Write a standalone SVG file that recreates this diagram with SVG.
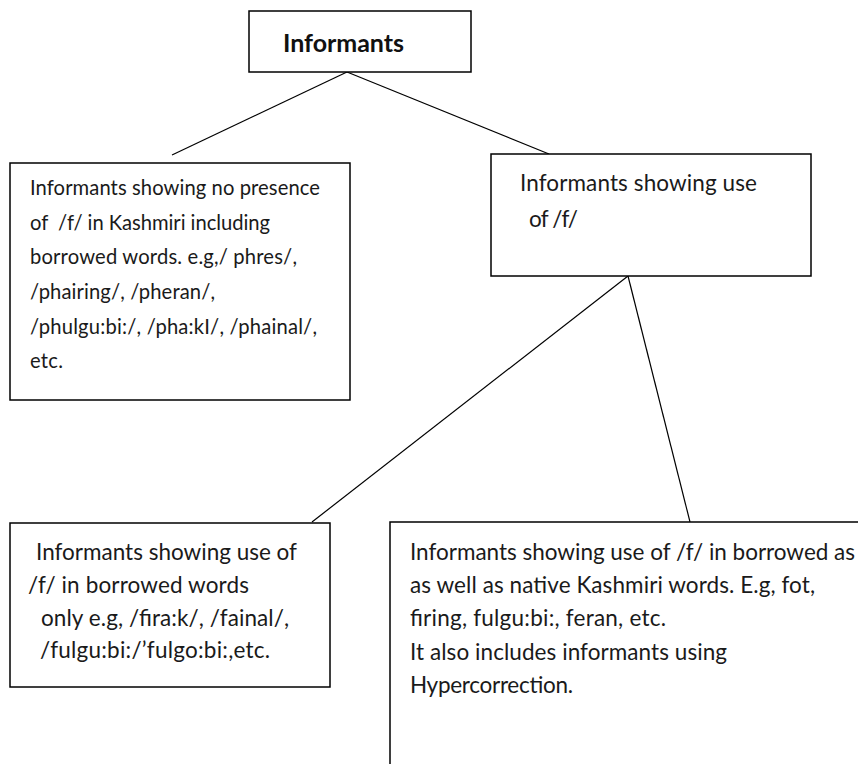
<svg xmlns="http://www.w3.org/2000/svg" width="858" height="764" viewBox="0 0 858 764">
<style>
.box{fill:#fff;stroke:#000;stroke-width:1.5}
.t{font-family:Lato,"Open Sans",sans-serif;font-size:20.2px;fill:#1a1a1a}
.b{font-size:22.5px}
.h{font-family:Lato,"Open Sans",sans-serif;font-size:25px;font-weight:bold;fill:#111}
.c{stroke:#000;stroke-width:1.2;fill:none}
</style>
<rect width="858" height="764" fill="#fff"/>
<g id="connectors">
<line class="c" x1="347" y1="72" x2="172" y2="155"/>
<line class="c" x1="347" y1="72" x2="549" y2="154"/>
<line class="c" x1="628" y1="276" x2="312" y2="522"/>
<line class="c" x1="628" y1="276" x2="690" y2="522"/>
</g>
<g id="root">
<rect class="box" x="249" y="11" width="222" height="61"/>
<text class="h" x="283" y="52" textLength="121">Informants</text>
</g>
<g id="no-f">
<rect class="box" x="10" y="163" width="340" height="237"/>
<text class="t" x="30" y="195" textLength="290">Informants showing no presence</text>
<text class="t" x="30" y="230" textLength="240" xml:space="preserve">of  /f/ in Kashmiri including</text>
<text class="t" x="30" y="264" textLength="267">borrowed words. e.g,/ phres/,</text>
<text class="t" x="30" y="299" textLength="185">/phairing/, /pheran/,</text>
<text class="t" x="30" y="334" textLength="287">/phulgu:bi:/, /pha:kI/, /phainal/,</text>
<text class="t" x="30" y="368" textLength="33">etc.</text>
</g>
<g id="use-f">
<rect class="box" x="491" y="154" width="320" height="122"/>
<text class="t b" x="520" y="191" textLength="237">Informants showing use</text>
<text class="t b" x="529" y="227" textLength="49">of /f/</text>
</g>
<g id="borrowed">
<rect class="box" x="10" y="523" width="320" height="164"/>
<text class="t b" x="36" y="560" textLength="261">Informants showing use of</text>
<text class="t b" x="28" y="593" textLength="221">/f/ in borrowed words</text>
<text class="t b" x="41" y="626" textLength="248">only e.g, /fira:k/, /fainal/,</text>
<text class="t b" x="40" y="658" textLength="230">/fulgu:bi:/’fulgo:bi:,etc.</text>
</g>
<g id="native">
<rect class="box" x="390" y="522" width="480" height="260"/>
<text class="t b" x="410" y="560" textLength="445">Informants showing use of /f/ in borrowed as</text>
<text class="t b" x="410" y="593" textLength="405">as well as native Kashmiri words. E.g, fot,</text>
<text class="t b" x="410" y="626" textLength="256">firing, fulgu:bi:, feran, etc.</text>
<text class="t b" x="410" y="660" textLength="317">It also includes informants using</text>
<text class="t b" x="410" y="693" textLength="163">Hypercorrection.</text>
</g>
</svg>
